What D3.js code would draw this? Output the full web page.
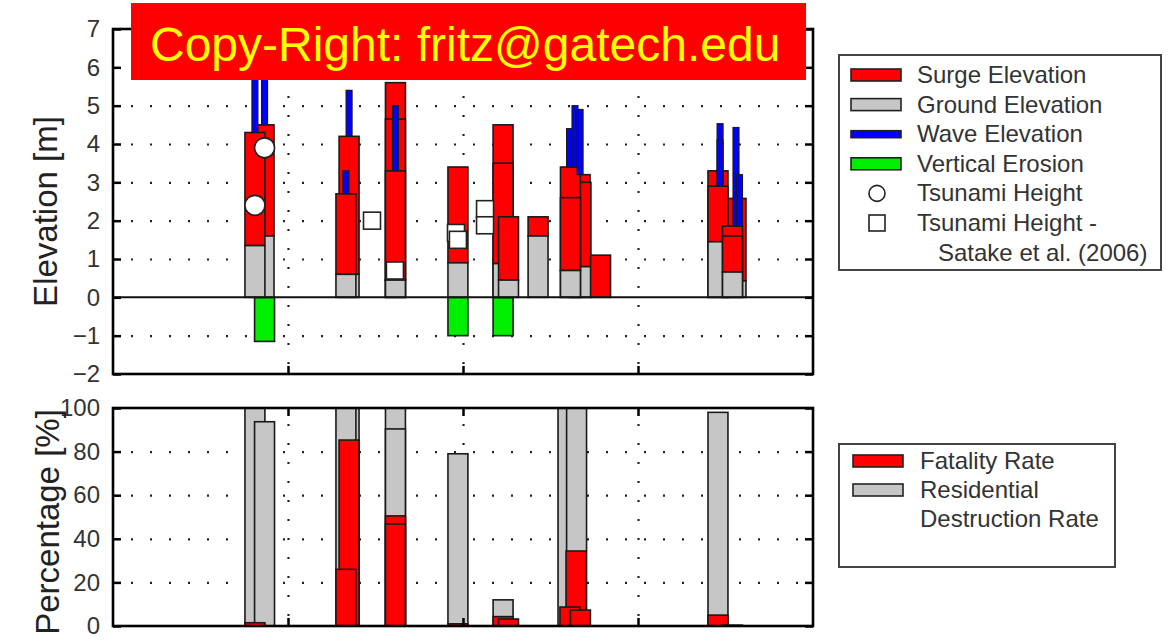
<!DOCTYPE html>
<html><head><meta charset="utf-8">
<script src="https://cdn.jsdelivr.net/npm/d3@7"></script>
<style>
body{margin:0;background:#fff}
svg{display:block}
text{font-family:"Liberation Sans",Arial,sans-serif}
</style>
</head><body>
<svg id="c" width="1172" height="641"></svg>
<script>
// ---------------- data ----------------
const elevTicks = [-2, -1, 0, 1, 2, 3, 4, 5, 6, 7];
const elevGrid = [-1, 1, 2, 3, 4, 5, 6];
const pctTicks = [0, 20, 40, 60, 80, 100];
const pctGrid = [20, 40, 60, 80];
const xGrid = [1, 2, 3];

// surge / ground layers (drawn in this order)
const siteX      = [0.863, 0.811, 1.349, 1.331, 1.614, 1.614, 1.614, 1.971, 2.229, 2.229, 2.260, 2.429, 2.669, 2.674, 2.614, 2.614, 2.786, 3.560, 3.457, 3.457, 3.540, 3.540];
const groundElev = [1.6,   1.35,  0.6,   0.6,   0.45,  0.45,  0.45,  0.9,   0.88,  0.88,  0.45,  1.6,   0.8,   0.8,   0.7,   0.7,   0.0,   0.43,  1.45,  1.45,  0.66,  0.66];
const surgeElev  = [4.5,   4.3,   4.2,   2.7,   5.6,   4.65,  3.3,   3.4,   4.5,   3.5,   2.1,   2.1,   3.2,   3.0,   3.4,   2.6,   1.1,   2.58,  3.3,   2.9,   1.86,  1.6];

// wave elevation bars
const waveX    = [0.811, 0.866, 1.331, 1.349, 1.614, 2.609, 2.640, 2.669, 3.469, 3.469, 3.560, 3.580];
const waveBase = [4.3,   4.5,   2.7,   4.2,   3.3,   3.4,   3.4,   3.2,   2.9,   2.9,   1.86,  1.86];
const waveTop  = [7.3,   7.3,   3.3,   5.4,   5.0,   4.4,   5.0,   4.9,   4.53,  4.11,  4.43,  3.2];

// vertical erosion
const erosionX = [0.866, 1.971, 2.229];
const erosionDepth = [-1.15, -1.0, -1.0];

// tsunami heights (circles) and Satake et al. (2006) (squares)
const tsunamiX = [0.811, 0.866];
const tsunamiH = [2.4, 3.9];
const satakeX = [1.480, 1.611, 1.960, 1.971, 2.126, 2.126];
const satakeH = [2.0, 0.7, 1.68, 1.5, 2.3, 1.88];

// residential destruction rate and fatality rate
const destrX    = [0.811, 0.866, 1.349, 1.331, 1.614, 1.614, 1.971, 2.229, 2.600, 2.649, 3.457];
const destrRate = [100,   93.7,  100,   100,   100,   90.4,  79,    12,    100,   100,   98];
const fatalX    = [0.811, 1.349, 1.331, 1.614, 1.614, 1.971, 2.229, 2.260, 2.646, 2.611, 2.671, 3.457, 3.540];
const fatalRate = [1.5,   85.3,  26,    50.5,  46.8,  1.0,   4.3,   3.2,   34.4,  8.7,   7.3,   5.0,   0.4];

// ---------------- layout ----------------
const svg = d3.select("#c");
const L = 113, R = 813;
const top1 = 29, bot1 = 374, top2 = 408, bot2 = 626;
const barW = 0.114, waveW = 0.034;
const RED = "#ff0000", GRAY = "#c6c6c6", BLUE = "#0000ff", GREEN = "#00ee00", EDGE = "#1a1a1a";
const labelColor = "#333";

const x = d3.scaleLinear().domain([0, 4]).range([L, R]);
const y1 = d3.scaleLinear().domain([-2, 7]).range([bot1, top1]);
const y2 = d3.scaleLinear().domain([0, 100]).range([bot2, top2]);

const defs = svg.append("defs");
defs.append("clipPath").attr("id", "clip1").append("rect")
  .attr("x", L).attr("y", top1).attr("width", R - L).attr("height", bot1 - top1);
defs.append("clipPath").attr("id", "clip2").append("rect")
  .attr("x", L).attr("y", top2).attr("width", R - L).attr("height", bot2 - top2);

function grid(g, yScale, yVals, yTop, yBot) {
  g.append("g").attr("transform", `translate(${L},0)`)
    .call(d3.axisLeft(yScale).tickValues(yVals).tickSize(-(R - L)).tickFormat(""))
    .call(s => s.select(".domain").remove())
    .selectAll("line").attr("stroke", "#222").attr("stroke-width", 2.2)
    .attr("stroke-dasharray", "2,17").attr("stroke-dashoffset", -18);
  g.append("g").attr("transform", `translate(0,${yBot})`)
    .call(d3.axisBottom(x).tickValues(xGrid).tickSize(-(yBot - yTop)).tickFormat(""))
    .call(s => s.select(".domain").remove())
    .selectAll("line").attr("stroke", "#222").attr("stroke-width", 2.2)
    .attr("stroke-dasharray", "2,17").attr("stroke-dashoffset", -10);
}

function frame(g, yScale, ticks, yTop, yBot) {
  const la = g.append("g").attr("transform", `translate(${L},0)`)
    .call(d3.axisLeft(yScale).tickValues(ticks).tickSize(-8).tickPadding(13));
  la.select(".domain").remove();
  la.selectAll("line").attr("stroke", "#000").attr("stroke-width", 2.5);
  la.selectAll("text").attr("fill", labelColor).style("font-size", "24px")
    .style("font-family", "'Liberation Sans',Arial,sans-serif");
  const ra = g.append("g").attr("transform", `translate(${R},0)`)
    .call(d3.axisRight(yScale).tickValues(ticks).tickSize(-8).tickFormat(""));
  ra.select(".domain").remove();
  ra.selectAll("line").attr("stroke", "#000").attr("stroke-width", 2.5);
  const ba = g.append("g").attr("transform", `translate(0,${yBot})`)
    .call(d3.axisBottom(x).tickValues(xGrid).tickSize(-8).tickFormat(""));
  ba.select(".domain").remove();
  ba.selectAll("line").attr("stroke", "#000").attr("stroke-width", 2.5);
  const ta = g.append("g").attr("transform", `translate(0,${yTop})`)
    .call(d3.axisTop(x).tickValues(xGrid).tickSize(-8).tickFormat(""));
  ta.select(".domain").remove();
  ta.selectAll("line").attr("stroke", "#000").attr("stroke-width", 2.5);
  g.append("rect").attr("x", L).attr("y", yTop).attr("width", R - L).attr("height", yBot - yTop)
    .attr("fill", "none").attr("stroke", "#000").attr("stroke-width", 2.6);
}

// ---------------- top panel ----------------
const g1 = svg.append("g");
grid(g1, y1, elevGrid, top1, bot1);
const p1 = g1.append("g").attr("clip-path", "url(#clip1)");

// erosion
p1.selectAll(".ero").data(erosionX).join("rect")
  .attr("x", (d) => x(d - barW / 2)).attr("width", x(barW) - x(0))
  .attr("y", y1(0)).attr("height", (d, i) => y1(erosionDepth[i]) - y1(0))
  .attr("fill", GREEN).attr("stroke", EDGE).attr("stroke-width", 1.6);

// ground + surge layers
siteX.forEach((sx, i) => {
  const xl = x(sx - barW / 2), w = x(barW) - x(0);
  if (surgeElev[i] > groundElev[i]) {
    p1.append("rect").attr("x", xl).attr("width", w)
      .attr("y", y1(surgeElev[i])).attr("height", y1(groundElev[i]) - y1(surgeElev[i]))
      .attr("fill", RED).attr("stroke", EDGE).attr("stroke-width", 1.6);
  }
  if (groundElev[i] > 0) {
    p1.append("rect").attr("x", xl).attr("width", w)
      .attr("y", y1(groundElev[i])).attr("height", y1(0) - y1(groundElev[i]))
      .attr("fill", GRAY).attr("stroke", EDGE).attr("stroke-width", 1.6);
  }
});

// waves
p1.selectAll(".wave").data(waveX).join("rect")
  .attr("x", d => x(d - waveW / 2)).attr("width", x(waveW) - x(0))
  .attr("y", (d, i) => y1(waveTop[i])).attr("height", (d, i) => y1(waveBase[i]) - y1(waveTop[i]))
  .attr("fill", BLUE).attr("stroke", EDGE).attr("stroke-width", 1.2);

// zero line
g1.append("line").attr("x1", L).attr("x2", R).attr("y1", y1(0)).attr("y2", y1(0))
  .attr("stroke", "#111").attr("stroke-width", 2);

// markers
g1.selectAll(".circ").data(tsunamiX).join("circle")
  .attr("cx", d => x(d)).attr("cy", (d, i) => y1(tsunamiH[i])).attr("r", 10)
  .attr("fill", "#fff").attr("stroke", "#222").attr("stroke-width", 1.6);
g1.selectAll(".sq").data(satakeX).join("rect")
  .attr("x", d => x(d) - 8.5).attr("y", (d, i) => y1(satakeH[i]) - 8.5)
  .attr("width", 17).attr("height", 17)
  .attr("fill", "#fff").attr("stroke", "#222").attr("stroke-width", 1.6);

frame(g1, y1, elevTicks, top1, bot1);

// ---------------- bottom panel ----------------
const g2 = svg.append("g");
grid(g2, y2, pctGrid, top2, bot2);
const p2 = g2.append("g").attr("clip-path", "url(#clip2)");
p2.selectAll(".des").data(destrX).join("rect")
  .attr("x", d => x(d - barW / 2)).attr("width", x(barW) - x(0))
  .attr("y", (d, i) => y2(destrRate[i])).attr("height", (d, i) => y2(0) - y2(destrRate[i]))
  .attr("fill", GRAY).attr("stroke", EDGE).attr("stroke-width", 1.6);
p2.selectAll(".fat").data(fatalX).join("rect")
  .attr("x", d => x(d - barW / 2)).attr("width", x(barW) - x(0))
  .attr("y", (d, i) => y2(fatalRate[i])).attr("height", (d, i) => y2(0) - y2(fatalRate[i]))
  .attr("fill", RED).attr("stroke", EDGE).attr("stroke-width", 1.6);
frame(g2, y2, pctTicks, top2, bot2);

// ---------------- axis titles ----------------
svg.append("text").attr("transform", `translate(57,${(top1 + bot1) / 2 + 10}) rotate(-90)`)
  .attr("text-anchor", "middle").attr("fill", "#222").style("font-size", "33px").text("Elevation [m]");
svg.append("text").attr("transform", `translate(59,${(top2 + bot2) / 2 + 5}) rotate(-90)`)
  .attr("text-anchor", "middle").attr("fill", "#222").style("font-size", "33px").text("Percentage [%]");

// ---------------- legends ----------------
const lg1 = svg.append("g");
lg1.append("rect").attr("x", 839).attr("y", 55).attr("width", 322).attr("height", 215)
  .attr("fill", "#fff").attr("stroke", "#444").attr("stroke-width", 2);
const leg1Items = [
  {t: "Surge Elevation", type: "rect", fill: RED, h: 12},
  {t: "Ground Elevation", type: "rect", fill: GRAY, h: 12},
  {t: "Wave Elevation", type: "rect", fill: BLUE, h: 7},
  {t: "Vertical Erosion", type: "rect", fill: GREEN, h: 12},
  {t: "Tsunami Height", type: "circle"},
  {t: "Tsunami Height -", type: "square"},
  {t: "Satake et al. (2006)", type: "none"}
];
leg1Items.forEach((it, i) => {
  const cy = 75 + i * 29.6;
  if (it.type === "rect") {
    lg1.append("rect").attr("x", 851).attr("y", cy - it.h / 2).attr("width", 50).attr("height", it.h)
      .attr("fill", it.fill).attr("stroke", "#222").attr("stroke-width", 1.6);
  } else if (it.type === "circle") {
    lg1.append("circle").attr("cx", 877).attr("cy", cy).attr("r", 8)
      .attr("fill", "#fff").attr("stroke", "#222").attr("stroke-width", 1.6);
  } else if (it.type === "square") {
    lg1.append("rect").attr("x", 869).attr("y", cy - 8).attr("width", 16).attr("height", 16)
      .attr("fill", "#fff").attr("stroke", "#222").attr("stroke-width", 1.6);
  }
  lg1.append("text").attr("x", it.type === "none" ? 938 : 917).attr("y", cy + 8)
    .attr("fill", labelColor).style("font-size", "24px").text(it.t);
});

const lg2 = svg.append("g");
lg2.append("rect").attr("x", 839).attr("y", 444).attr("width", 276).attr("height", 123)
  .attr("fill", "#fff").attr("stroke", "#444").attr("stroke-width", 2);
const leg2Items = [
  {t: "Fatality Rate", fill: RED},
  {t: "Residential", fill: GRAY},
  {t: "Destruction Rate", fill: null}
];
leg2Items.forEach((it, i) => {
  const cy = 461 + i * 29;
  if (it.fill) {
    lg2.append("rect").attr("x", 853).attr("y", cy - 6).attr("width", 50).attr("height", 12)
      .attr("fill", it.fill).attr("stroke", "#222").attr("stroke-width", 1.6);
  }
  lg2.append("text").attr("x", 920).attr("y", cy + 8)
    .attr("fill", labelColor).style("font-size", "24px").text(it.t);
});

// ---------------- copyright banner ----------------
svg.append("rect").attr("x", 131).attr("y", 3).attr("width", 675).attr("height", 77).attr("fill", "#ff0000");
svg.append("text").attr("x", 150).attr("y", 61).attr("fill", "#ffff00")
  .style("font-size", "48px").text("Copy-Right: fritz@gatech.edu");
</script>
</body></html>
